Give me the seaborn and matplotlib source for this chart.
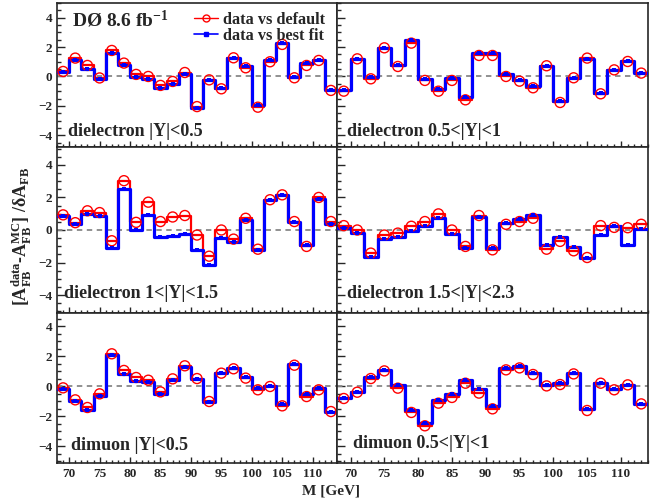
import numpy as np
import matplotlib
matplotlib.use("Agg")
import matplotlib.pyplot as plt
from matplotlib.lines import Line2D
from matplotlib.ticker import MultipleLocator
import seaborn as sns

# ---- data: 23 mass bins, 2 GeV wide, 68 -> 114 GeV ----
bin_edges = np.arange(68, 115, 2)
bin_centers = bin_edges[:-1] + 1

panel_labels = ["dielectron |Y|<0.5", "dielectron 0.5<|Y|<1",
                "dielectron 1<|Y|<1.5", "dielectron 1.5<|Y|<2.3",
                "dimuon |Y|<0.5", "dimuon 0.5<|Y|<1"]

# data vs default (red)
ee_y0_default = [0.34, 1.25, 0.75, -0.10, 1.77, 0.91, 0.14, 0.00, -0.61, -0.34, 0.27, -2.05,
                 -0.23, -0.84, 1.27, 0.59, -2.09, 1.00, 2.18, -0.09, 0.75, 1.09, -0.95]
ee_y1_default = [-1.00, 1.20, -0.16, 1.95, 0.68, 2.27, -0.27, -1.00, -0.27, -1.59, 1.43, 1.43,
                 0.00, -0.32, -0.77, 0.73, -1.77, -0.09, 1.25, -1.18, 0.45, 1.02, 0.23]
ee_y2_default = [0.93, 0.45, 1.18, 1.07, -0.66, 3.03, 0.47, 1.71, 0.52, 0.80, 0.89, -0.31,
                 -1.61, 0.00, -0.56, 0.72, -1.18, 1.86, 2.16, 0.52, -1.01, 2.00, 0.52]
ee_y3_default = [0.27, 0.00, -1.42, -0.31, -0.19, 0.23, 0.52, 0.99, 0.00, -1.01, 0.89, -1.22,
                 0.35, 0.52, 0.72, -1.18, -0.70, -1.28, -1.69, 0.27, 0.16, 0.14, 0.35]
mm_y0_default = [-0.09, -0.89, -1.40, -0.49, 2.18, 1.07, 0.60, 0.42, -0.36, 0.51, 1.38, 0.53,
                 -1.00, 0.89, 1.18, 0.56, -0.22, 0.00, -1.29, 1.42, -0.67, -0.22, -1.67]
mm_y1_default = [-0.80, -0.38, 0.53, 1.04, -0.11, -1.73, -2.62, -1.11, -0.73, 0.22, -0.44, -1.49,
                 1.11, 1.24, 0.80, 0.04, 0.13, 0.84, -1.60, 0.22, -0.22, 0.11, -1.16]

# data vs best fit (blue)
ee_y0_best = [0.30, 1.14, 0.50, -0.20, 1.61, 0.75, -0.05, -0.14, -0.77, -0.50, 0.18, -2.14,
              -0.23, -0.77, 1.27, 0.68, -1.93, 1.14, 2.27, -0.05, 0.91, 1.14, -0.91]
ee_y1_best = [-0.95, 1.20, -0.05, 1.95, 0.80, 2.45, -0.18, -0.86, -0.11, -1.41, 1.59, 1.59,
              0.14, -0.23, -0.68, 0.73, -1.64, -0.09, 1.20, -1.14, 0.41, 1.02, 0.25]
ee_y2_best = [0.89, 0.39, 1.01, 0.87, -1.09, 2.54, 0.00, 0.93, -0.45, -0.37, -0.23, -1.22,
              -2.12, -0.49, -0.72, 0.64, -1.24, 1.84, 2.12, 0.47, -0.93, 1.92, 0.39]
ee_y3_best = [0.14, -0.21, -1.65, -0.56, -0.41, -0.04, 0.27, 0.72, -0.27, -1.13, 0.78, -1.13,
              0.43, 0.68, 0.93, -0.93, -0.41, -1.07, -1.75, -0.29, 0.27, -0.93, 0.06]
mm_y0_best = [-0.18, -0.98, -1.56, -0.62, 2.07, 0.84, 0.38, 0.31, -0.49, 0.44, 1.27, 0.51,
              -1.02, 0.89, 1.22, 0.60, -0.13, 0.00, -1.16, 1.53, -0.51, -0.13, -1.67]
mm_y1_best = [-0.80, -0.38, 0.60, 1.11, 0.09, -1.56, -2.44, -0.93, -0.51, 0.40, -0.20, -1.33,
              1.24, 1.38, 0.93, 0.13, 0.22, 0.93, -1.49, 0.22, -0.16, 0.13, -1.16]

default_sets = [ee_y0_default, ee_y1_default, ee_y2_default, ee_y3_default, mm_y0_default, mm_y1_default]
best_sets = [ee_y0_best, ee_y1_best, ee_y2_best, ee_y3_best, mm_y0_best, mm_y1_best]

row_ylims = [(-4.8, 5.0), (-5.1, 5.1), (-5.1, 4.9)]

# ---- style ----
sns.set_style("ticks")
plt.rcParams['font.family'] = ['Liberation Serif', 'DejaVu Serif']
plt.rcParams['font.weight'] = 'bold'
plt.rcParams['mathtext.fontset'] = 'custom'
plt.rcParams['mathtext.rm'] = 'Liberation Serif:bold'
plt.rcParams['mathtext.it'] = 'Liberation Serif:bold'
plt.rcParams['mathtext.bf'] = 'Liberation Serif:bold'

W, H = 668, 501
fig, axes = plt.subplots(3, 2, figsize=(W / 100, H / 100), dpi=100, sharex=True,
                         gridspec_kw={'width_ratios': [280, 311],
                                      'height_ratios': [144, 166, 150]})
fig.subplots_adjust(left=57 / W, right=648 / W, top=1 - 3 / H, bottom=1 - 463 / H,
                    wspace=0, hspace=0)


def step_line(ax, vals, color, lw, z):
    # histogram outline: value held across each bin, last value repeated to close the last bin
    yy = np.append(vals, vals[-1])
    sns.lineplot(x=bin_edges, y=yy, ax=ax, drawstyle='steps-post', estimator=None,
                 sort=False, color=color, linewidth=lw, zorder=z)


for i, ax in enumerate(axes.flat):
    row, col = divmod(i, 2)
    ax.axhline(0, color='#888888', ls=(0, (3, 2.5)), lw=1.3, zorder=1)
    step_line(ax, default_sets[i], '#ff0000', 1.6, 2)
    step_line(ax, best_sets[i], '#0000ff', 2.3, 3)
    sns.scatterplot(x=bin_centers, y=default_sets[i], ax=ax, marker='o', s=52,
                    facecolor='none', edgecolor='#ff0000', linewidth=1.0, zorder=4)
    sns.scatterplot(x=bin_centers, y=best_sets[i], ax=ax, marker='s', s=12,
                    color='#0000ff', linewidth=0, zorder=5)

    ax.set_xlim(68, 114)
    ax.set_ylim(*row_ylims[row])
    ax.set_xlabel('')
    ax.set_ylabel('')
    ax.xaxis.set_major_locator(MultipleLocator(5))
    ax.xaxis.set_minor_locator(MultipleLocator(1))
    ax.yaxis.set_major_locator(MultipleLocator(2))
    ax.yaxis.set_minor_locator(MultipleLocator(0.5))
    ax.tick_params(which='both', direction='in', labelsize=9.5, width=1.0)
    ax.tick_params(axis='y', which='major', length=6)
    ax.tick_params(axis='y', which='minor', length=3)
    ax.tick_params(axis='x', which='major', length=4)
    ax.tick_params(axis='x', which='minor', length=2)
    for s in ax.spines.values():
        s.set_linewidth(1.2)
    if col == 1:
        ax.tick_params(axis='y', labelleft=False)
    if row < 2:
        ax.tick_params(axis='x', labelbottom=False)
    for lab in ax.get_xticklabels() + ax.get_yticklabels():
        lab.set_fontweight('bold')

# panel labels (pixel positions of the left edge / vertical centre)
label_pos = [(68, 131), (347, 131), (64, 293), (347, 293), (71, 446), (353, 443)]
for (px, py), txt in zip(label_pos, panel_labels):
    fig.text(px / W, 1 - py / H, txt, fontsize=13, fontweight='bold', ha='left', va='center')

fig.text(72 / W, 1 - 20 / H, 'DØ 8.6 fb$^{-1}$', fontsize=14, fontweight='bold',
         ha='left', va='center')

handles = [Line2D([], [], color='#ff0000', lw=1.0, marker='o', ms=5, mfc='none', mec='#ff0000', mew=1.0),
           Line2D([], [], color='#0000ff', lw=1.2, marker='s', ms=2.8, mec='#0000ff')]
fig.legend(handles, ['data vs default', 'data vs best fit'], loc='upper left',
           bbox_to_anchor=(186 / W, 1 - 4 / H), frameon=False,
           handlelength=1.5, handletextpad=0.28, labelspacing=0.0, borderpad=0,
           prop={'weight': 'bold', 'size': 11.7})

fig.text(22 / W, 1 - 236 / H,
         '[A$_{\\mathrm{FB}}^{\\mathrm{data}}$-A$_{\\mathrm{FB}}^{\\mathrm{MC}}$] /δA$_{\\mathrm{FB}}$',
         rotation=90, fontsize=13, fontweight='bold', ha='center', va='center')
fig.text(331 / W, 1 - 491 / H, 'M [GeV]', fontsize=11, fontweight='bold', ha='center', va='center')

fig.savefig('out.png', dpi=100)
